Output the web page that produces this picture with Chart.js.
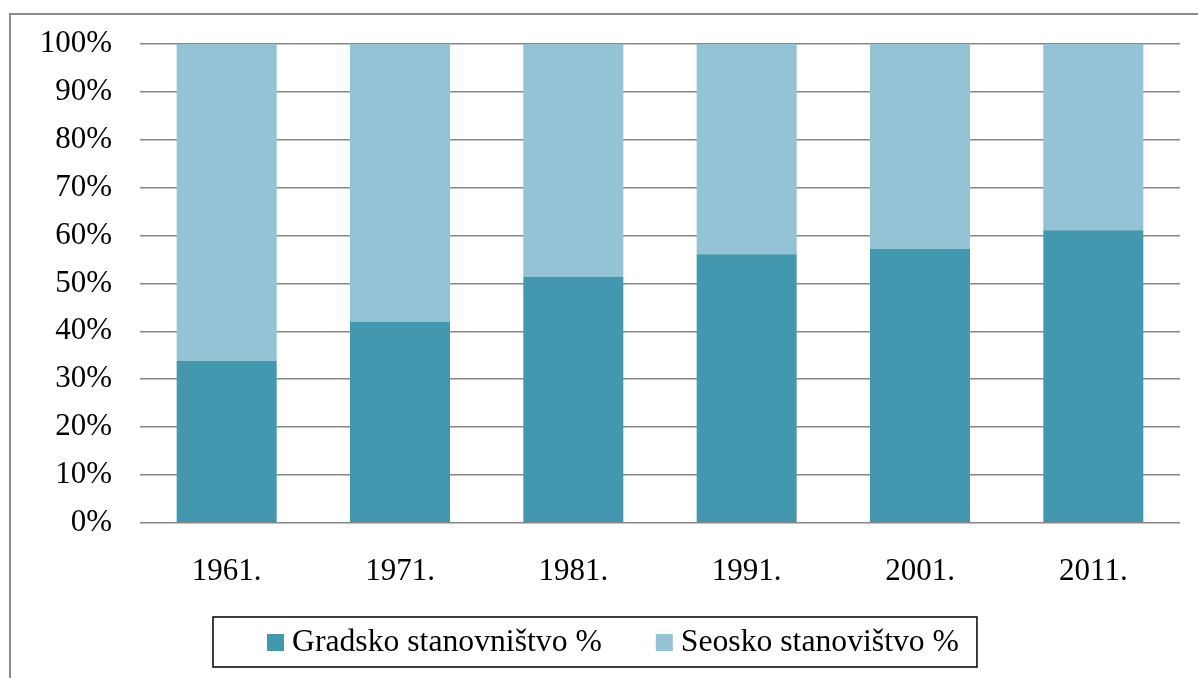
<!DOCTYPE html>
<html>
<head>
<meta charset="utf-8">
<script src="https://cdn.jsdelivr.net/npm/chart.js@4.4.1/dist/chart.umd.min.js"></script>
<style>
  html, body { margin: 0; padding: 0; background: #fff; }
  #wrap { width: 1198px; height: 678px; }
</style>
</head>
<body>
<div id="wrap"><canvas id="chart" width="1198" height="678"></canvas></div>
<script>
// values
var years = ['1961.', '1971.', '1981.', '1991.', '2001.', '2011.'];
var urban = [33.8, 42.0, 51.4, 56.1, 57.2, 61.1];
var rural = [66.2, 58.0, 48.6, 43.9, 42.8, 38.9];
var seriesNames = ['Gradsko stanovništvo %', 'Seosko stanovištvo %'];

var darkTeal = '#4397af';
var lightBlue = '#93c3d5';
var serif = "'Liberation Serif', 'Times New Roman', serif";

// outer frame plus a boxed legend under the axis
var framePlugin = {
	id: 'frame',
	afterDraw: function(chart) {
		var ctx = chart.ctx;
		ctx.save();
		ctx.strokeStyle = '#8c8c8c';
		ctx.lineWidth = 2;
		ctx.strokeRect(10, 14, chart.width + 20, chart.height + 20);

		ctx.font = '31.7px ' + serif;
		ctx.textBaseline = 'middle';
		var items = chart.data.datasets.map(function(ds) {
			return { text: ds.label, color: ds.backgroundColor, w: ctx.measureText(ds.label).width };
		});
		var total = 54 + 18;
		items.forEach(function(it, i) {
			total += 17 + 8 + it.w + (i < items.length - 1 ? 54 : 0);
		});
		var left = Math.round(595 - total / 2);
		var top = 617, h = 50, mid = top + h / 2;

		var x = left + 54;
		items.forEach(function(it) {
			ctx.fillStyle = it.color;
			ctx.fillRect(x, mid - 8, 17, 17);
			ctx.fillStyle = '#000';
			ctx.fillText(it.text, x + 25, mid + 1);
			x += 17 + 8 + it.w + 54;
		});

		ctx.strokeStyle = '#000';
		ctx.lineWidth = 1.5;
		ctx.strokeRect(left, top, total, h);
		ctx.restore();
	}
};

new Chart(document.getElementById('chart').getContext('2d'), {
	type: 'bar',
	data: {
		labels: years,
		datasets: [{
			label: seriesNames[0],
			data: urban,
			backgroundColor: darkTeal,
			barPercentage: 0.577,
			categoryPercentage: 1
		}, {
			label: seriesNames[1],
			data: rural,
			backgroundColor: lightBlue,
			barPercentage: 0.577,
			categoryPercentage: 1
		}]
	},
	options: {
		responsive: false,
		animation: false,
		layout: {
			padding: { top: 44, right: 18, bottom: 66, left: 0 }
		},
		scales: {
			x: {
				stacked: true,
				grid: { display: false },
				border: { display: false },
				ticks: {
					padding: 22,
					color: '#000',
					font: { family: serif, size: 31 }
				}
			},
			y: {
				stacked: true,
				min: 0,
				max: 100,
				grid: { color: '#878787', lineWidth: 1.5, drawTicks: false },
				border: { display: false },
				ticks: {
					stepSize: 10,
					padding: 28,
					color: '#000',
					font: { family: serif, size: 31 },
					callback: function(v) { return v + '%'; }
				},
				afterFit: function(scale) {
					scale.width = 140;
					scale.paddingTop = 0;
					scale.paddingBottom = 0;
				}
			}
		},
		plugins: {
			tooltip: { enabled: false },
			legend: { display: false }
		}
	},
	plugins: [framePlugin]
});
</script>
</body>
</html>
